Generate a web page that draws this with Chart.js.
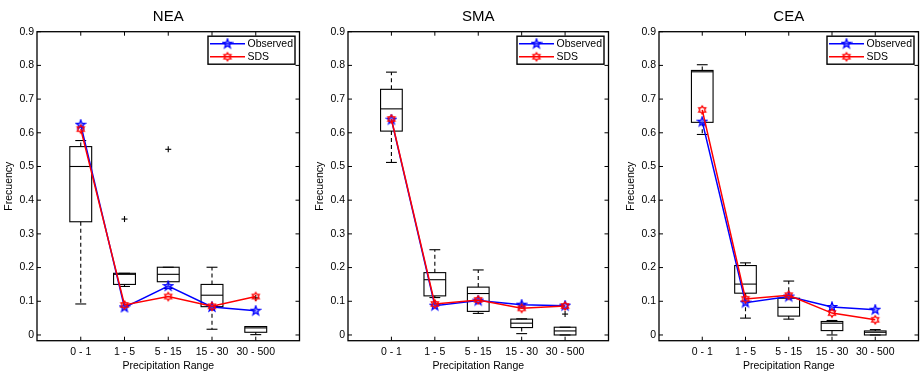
<!DOCTYPE html>
<html>
<head>
<meta charset="utf-8">
<script src="https://cdn.jsdelivr.net/npm/chart.js@4/dist/chart.umd.min.js"></script>
<style>
  body { margin:0; background:#fff; }
  #wrap { position:relative; width:924px; height:372px; background:#fff; }
  canvas { position:absolute; top:0; }
</style>
</head>
<body>
<div id="wrap">
  <canvas id="c0" width="305" height="372" style="left:0px"></canvas>
  <canvas id="c1" width="303" height="372" style="left:311px"></canvas>
  <canvas id="c2" width="302" height="372" style="left:622px"></canvas>
</div>
<script>
// ---------------- DATA ----------------
const categories = ['0 - 1', '1 - 5', '5 - 15', '15 - 30', '30 - 500'];
const yTicks = [0, 0.1, 0.2, 0.3, 0.4, 0.5, 0.6, 0.7, 0.8, 0.9];
const panelTitles = ['NEA', 'SMA', 'CEA'];
const seriesNames = ['Observed', 'SDS'];

// NEA
const neaObserved = [0.624, 0.082, 0.145, 0.083, 0.072];
const neaSDS      = [0.611, 0.089, 0.114, 0.085, 0.114];
const neaWhiskerLow  = [0.092, 0.144, 0.138, 0.017, 0.001];
const neaQ1          = [0.336, 0.150, 0.158, 0.084, 0.008];
const neaMedian      = [0.500, 0.180, 0.180, 0.118, 0.021];
const neaQ3          = [0.559, 0.183, 0.201, 0.150, 0.025];
const neaWhiskerHigh = [0.577, 0.183, 0.201, 0.201, 0.025];
const neaOutliers    = [[1, 0.344], [2, 0.551], [4, 0.110]];

// SMA
const smaObserved = [0.639, 0.087, 0.102, 0.090, 0.087];
const smaSDS      = [0.641, 0.092, 0.104, 0.079, 0.086];
const smaWhiskerLow  = [0.512, 0.111, 0.064, 0.004, 0.000];
const smaQ1          = [0.605, 0.116, 0.070, 0.022, 0.000];
const smaMedian      = [0.671, 0.164, 0.123, 0.035, 0.012];
const smaQ3          = [0.729, 0.185, 0.142, 0.047, 0.023];
const smaWhiskerHigh = [0.780, 0.253, 0.193, 0.048, 0.023];
const smaOutliers    = [[3, 0.091], [4, 0.062]];

// CEA
const ceaObserved = [0.633, 0.096, 0.114, 0.083, 0.075];
const ceaSDS      = [0.668, 0.107, 0.118, 0.065, 0.045];
const ceaWhiskerLow  = [0.595, 0.050, 0.047, 0.000, 0.000];
const ceaQ1          = [0.631, 0.124, 0.056, 0.013, 0.000];
const ceaMedian      = [0.781, 0.151, 0.082, 0.035, 0.008];
const ceaQ3          = [0.785, 0.206, 0.109, 0.040, 0.012];
const ceaWhiskerHigh = [0.802, 0.214, 0.160, 0.043, 0.016];
const ceaOutliers    = [];

// ---------------- STYLE ----------------
const FONT = "'Liberation Sans', Arial, Helvetica, sans-serif";
const panels = [
  { id:'c0', title: panelTitles[0], obs: neaObserved, sds: neaSDS,
    box: { low: neaWhiskerLow, q1: neaQ1, med: neaMedian, q3: neaQ3, high: neaWhiskerHigh, out: neaOutliers }, padRight: 2 },
  { id:'c1', title: panelTitles[1], obs: smaObserved, sds: smaSDS,
    box: { low: smaWhiskerLow, q1: smaQ1, med: smaMedian, q3: smaQ3, high: smaWhiskerHigh, out: smaOutliers }, padRight: 3 },
  { id:'c2', title: panelTitles[2], obs: ceaObserved, sds: ceaSDS,
    box: { low: ceaWhiskerLow, q1: ceaQ1, med: ceaMedian, q3: ceaQ3, high: ceaWhiskerHigh, out: ceaOutliers }, padRight: 1 }
];

function makeStar(points, rOut, rIn, color, lw, fill) {
  const size = 12;
  const c = document.createElement('canvas');
  c.width = size; c.height = size;
  const g = c.getContext('2d');
  g.beginPath();
  for (let k = 0; k < points * 2; k++) {
    const r = (k % 2 === 0) ? rOut : rIn;
    const a = -Math.PI / 2 + k * Math.PI / points;
    const px = size / 2 + r * Math.cos(a), py = size / 2 + r * Math.sin(a);
    if (k === 0) g.moveTo(px, py); else g.lineTo(px, py);
  }
  g.closePath();
  if (fill) { g.fillStyle = fill; g.fill(); }
  g.strokeStyle = color; g.lineWidth = lw; g.lineJoin = 'miter';
  g.stroke();
  return c;
}
const pentagram = makeStar(5, 4.8, 2.0, '#0000ff', 1.3, 'rgba(90,90,255,0.55)');
const hexagram  = makeStar(6, 4.0, 2.4, '#ff0000', 1.4, null);

function line(ctx, x1, y1, x2, y2) {
  ctx.beginPath(); ctx.moveTo(x1, y1); ctx.lineTo(x2, y2); ctx.stroke();
}

const boxPlugin = {
  id: 'boxes',
  beforeDatasetsDraw(chart, args, o) {
    const xs = chart.scales.x, ys = chart.scales.y, ctx = chart.ctx;
    const unit = xs.getPixelForValue(2) - xs.getPixelForValue(1);
    const hw = unit * 0.25, cw = unit * 0.125;
    ctx.save();
    ctx.strokeStyle = '#000'; ctx.lineWidth = 1.1;
    for (let i = 0; i < o.med.length; i++) {
      const cx = xs.getPixelForValue(i + 1);
      const yl = ys.getPixelForValue(o.low[i]);
      const y1 = ys.getPixelForValue(o.q1[i]);
      const ym = ys.getPixelForValue(o.med[i]);
      const y3 = ys.getPixelForValue(o.q3[i]);
      const yh = ys.getPixelForValue(o.high[i]);
      ctx.setLineDash([4, 3]);
      if (yh < y3) line(ctx, cx, y3, cx, yh);
      if (yl > y1) line(ctx, cx, y1, cx, yl);
      ctx.setLineDash([]);
      line(ctx, cx - cw, yh, cx + cw, yh);
      line(ctx, cx - cw, yl, cx + cw, yl);
      ctx.strokeRect(cx - hw, y3, 2 * hw, y1 - y3);
      line(ctx, cx - hw, ym, cx + hw, ym);
    }
    for (const [ci, v] of o.out) {
      const cx = xs.getPixelForValue(ci + 1), cy = ys.getPixelForValue(v);
      line(ctx, cx - 3, cy, cx + 3, cy);
      line(ctx, cx, cy - 3, cx, cy + 3);
    }
    ctx.restore();
  }
};

const framePlugin = {
  id: 'frame',
  afterDatasetsDraw(chart) {
    const a = chart.chartArea, ctx = chart.ctx;
    const xs = chart.scales.x, ys = chart.scales.y;
    ctx.save();
    ctx.strokeStyle = '#000'; ctx.lineWidth = 1.3;
    ctx.strokeRect(a.left, a.top, a.right - a.left, a.bottom - a.top);
    ctx.lineWidth = 1;
    const tl = 4;
    for (const v of yTicks) {
      const py = ys.getPixelForValue(v);
      line(ctx, a.left, py, a.left + tl, py);
      line(ctx, a.right, py, a.right - tl, py);
    }
    for (let i = 1; i <= categories.length; i++) {
      const px = xs.getPixelForValue(i);
      line(ctx, px, a.bottom, px, a.bottom - tl);
      line(ctx, px, a.top, px, a.top + tl);
    }
    ctx.restore();
  },
  afterDraw(chart) {
    const a = chart.chartArea, ctx = chart.ctx;
    const w = 87, h = 28;
    const bx = a.right - 4.5 - w, by = a.top + 4.5;
    ctx.save();
    ctx.fillStyle = '#fff';
    ctx.fillRect(bx, by, w, h);
    ctx.strokeStyle = '#000'; ctx.lineWidth = 1.4;
    ctx.strokeRect(bx, by, w, h);
    ctx.font = '10.5px ' + FONT;
    ctx.textBaseline = 'middle'; ctx.textAlign = 'left';
    chart.data.datasets.forEach((ds, k) => {
      const ry = by + 7.5 + k * 13;
      ctx.strokeStyle = ds.borderColor; ctx.lineWidth = 1.5;
      line(ctx, bx + 2, ry, bx + 37, ry);
      const img = ds.pointStyle;
      ctx.drawImage(img, bx + 19.5 - img.width / 2, ry - img.height / 2);
      ctx.fillStyle = '#000';
      ctx.fillText(ds.label, bx + 39.5, ry + 0.5);
    });
    ctx.restore();
  }
};

const xLabels = [''].concat(categories, ['']);

panels.forEach(p => {
  new Chart(document.getElementById(p.id), {
    type: 'line',
    data: {
      labels: xLabels,
      datasets: [
        { label: seriesNames[0], data: [null].concat(p.obs, [null]), borderColor: '#0000ff',
          borderWidth: 1.5, pointStyle: pentagram, pointRadius: 4, tension: 0, fill: false, order: 2 },
        { label: seriesNames[1], data: [null].concat(p.sds, [null]), borderColor: '#ff0000',
          borderWidth: 1.5, pointStyle: hexagram, pointRadius: 4, tension: 0, fill: false, order: 1 }
      ]
    },
    options: {
      responsive: false,
      animation: false,
      devicePixelRatio: 1,
      layout: { padding: { left: 0, right: p.padRight, top: 0, bottom: 0 } },
      plugins: {
        legend: { display: false },
        tooltip: { enabled: false },
        title: { display: true, text: p.title, fullSize: false, color: '#000',
                 font: { family: FONT, size: 15, weight: 'normal' }, padding: { top: 8, bottom: 5.7 } },
        boxes: p.box
      },
      scales: {
        x: {
          type: 'category', offset: false,
          grid: { display: false, drawTicks: false }, border: { display: false },
          ticks: { color: '#000', font: { family: FONT, size: 10.5 }, padding: 5, maxRotation: 0, autoSkip: false },
          title: { display: true, text: 'Precipitation Range', color: '#000', font: { family: FONT, size: 10.5 }, padding: { top: 0, bottom: 0 } },
          afterFit(s) { s.height = 31.3; }
        },
        y: {
          type: 'linear', min: -0.017, max: 0.9,
          afterBuildTicks(s) { s.ticks = yTicks.map(v => ({ value: v })); },
          grid: { display: false, drawTicks: false }, border: { display: false },
          ticks: { color: '#000', font: { family: FONT, size: 10.5 }, padding: 3,
                   callback: v => (v === 0 ? '0' : v.toFixed(1)) },
          title: { display: true, text: 'Frecuency', color: '#000', font: { family: FONT, size: 10.5 }, padding: { top: 3, bottom: 0 } },
          afterFit(s) { s.width = 37; }
        }
      }
    },
    plugins: [boxPlugin, framePlugin]
  });
});
</script>
</body>
</html>
